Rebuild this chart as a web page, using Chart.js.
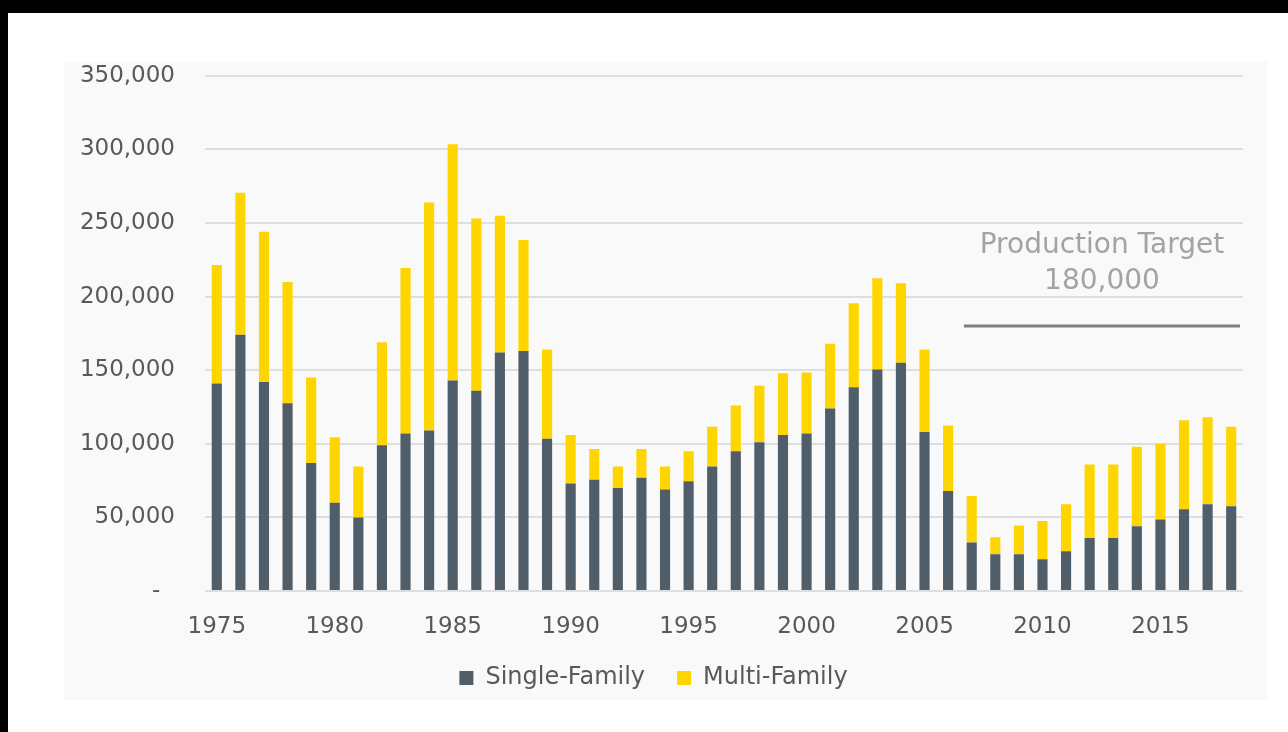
<!DOCTYPE html>
<html>
<head>
<meta charset="utf-8">
<script src="https://cdn.jsdelivr.net/npm/chart.js@4.4.1/dist/chart.umd.min.js"></script>
<style>
  html, body { margin: 0; padding: 0; background: #000; }
  body { width: 1288px; height: 732px; position: relative; overflow: hidden; }
  #frame { position: absolute; left: 8px; top: 13px; width: 1280px; height: 719px; background: #fff; }
  #panel { position: absolute; left: 64px; top: 62px; width: 1203px; height: 638px; background: #f9f9f9; }
</style>
</head>
<body>
<div id="frame"></div>
<div id="panel"><canvas id="chart"></canvas></div>
<script>
const years = [
  1975, 1976, 1977, 1978, 1979, 1980, 1981, 1982, 1983, 1984,
  1985, 1986, 1987, 1988, 1989, 1990, 1991, 1992, 1993, 1994,
  1995, 1996, 1997, 1998, 1999, 2000, 2001, 2002, 2003, 2004,
  2005, 2006, 2007, 2008, 2009, 2010, 2011, 2012, 2013, 2014,
  2015, 2016, 2017, 2018
]

const singleFamily = [
  141000, 174000, 142000, 127500, 87000, 60000, 50000, 99000, 107000, 109000,
  143000, 136000, 162000, 163000, 103500, 73000, 75500, 70000, 77000, 69000,
  74500, 84500, 95000, 101000, 106000, 107000, 124000, 138500, 150500, 155000,
  108000, 68000, 33000, 25000, 25000, 21500, 27000, 36000, 36000, 44000,
  48500, 55500, 59000, 57500
]

const multiFamily = [
  80500, 96500, 102000, 82500, 58000, 44500, 34500, 70000, 112500, 155000,
  160500, 117000, 93000, 75500, 60500, 33000, 21000, 14500, 19500, 15500,
  20500, 27000, 31000, 38500, 42000, 41500, 44000, 57000, 62000, 54000,
  56000, 44500, 31500, 11500, 19500, 26000, 32000, 50000, 50000, 54000,
  51500, 60500, 59000, 54000
]

const productionTarget = 180000
const targetLabel = ['Production Target', '180,000']

const colors = {
  slate: '#4f5e69',
  yellow: '#ffd500',
  text: '#595959',
  grid: '#dedede',
  target: '#7f7f7f',
  targetText: '#a3a3a3',
}

const fontFamily = '"DejaVu Sans", sans-serif'

// horizontal target line + caption, positioned through the chart scales
const targetPlugin = {
  id: 'targetLine',
  afterDatasetsDraw(chart) {
    const { ctx, chartArea, scales: { x, y } } = chart
    const startIdx = years.indexOf(2006)
    const x0 = (x.getPixelForValue(startIdx) + x.getPixelForValue(startIdx + 1)) / 2 + 4
    const x1 = chartArea.right - 3
    const yy = y.getPixelForValue(productionTarget)
    ctx.save()
    ctx.strokeStyle = colors.target
    ctx.lineWidth = 3
    ctx.beginPath()
    ctx.moveTo(x0, yy)
    ctx.lineTo(x1, yy)
    ctx.stroke()
    ctx.fillStyle = colors.targetText
    ctx.font = '28px ' + fontFamily
    ctx.textAlign = 'center'
    ctx.textBaseline = 'middle'
    const cx = (x0 + x1) / 2
    ctx.fillText(targetLabel[0], cx, yy - 80)
    ctx.fillText(targetLabel[1], cx, yy - 44)
    ctx.restore()
  }
}

new Chart(document.getElementById('chart'), {
  type: 'bar',
  data: {
    labels: years,
    datasets: [{
      label: 'Single-Family',
      data: singleFamily,
      backgroundColor: colors.slate,
      borderWidth: 0,
    }, {
      label: 'Multi-Family',
      data: multiFamily,
      backgroundColor: colors.yellow,
      borderWidth: 0,
    }]
  },
  options: {
    responsive: true,
    maintainAspectRatio: false,
    animation: false,
    layout: { padding: { top: 0, right: 24, bottom: 0, left: 0 } },
    datasets: { bar: { categoryPercentage: 1, barPercentage: 0.43 } },
    plugins: {
      legend: {
        position: 'bottom',
        labels: {
          color: colors.text,
          font: { family: fontFamily, size: 24 },
          boxWidth: 14,
          boxHeight: 14,
          padding: 32,
        }
      },
      tooltip: { enabled: false }
    },
    scales: {
      x: {
        stacked: true,
        grid: { display: false, drawTicks: false },
        border: { display: false },
        ticks: {
          autoSkip: false,
          maxRotation: 0,
          padding: 22,
          color: colors.text,
          font: { family: fontFamily, size: 23 },
          callback: (val, i) => years[i] % 5 === 0 ? String(years[i]) : ''
        },
        afterFit(scale) { scale.height = 43 }
      },
      y: {
        stacked: true,
        min: 0,
        max: 350000,
        grid: { color: colors.grid, lineWidth: 2, drawTicks: true, tickLength: 30, tickColor: 'transparent' },
        border: { display: false },
        ticks: {
          stepSize: 50000,
          padding: 0,
          color: colors.text,
          font: { family: fontFamily, size: 23 },
          callback: v => v === 0 ? '-  ' : v.toLocaleString('en-US')
        },
        afterFit(scale) { scale.width = 141 }
      }
    }
  },
  plugins: [targetPlugin]
})
</script>
</body>
</html>
